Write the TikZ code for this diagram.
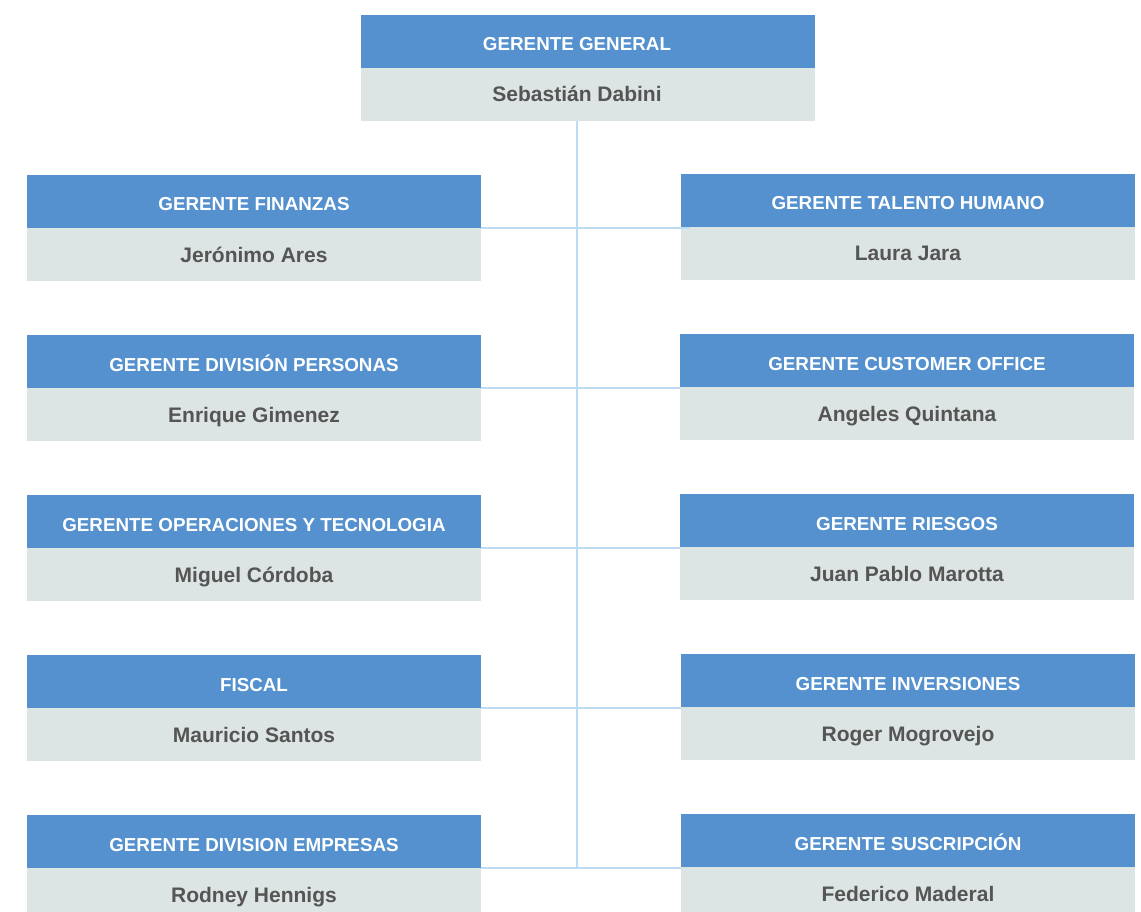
\documentclass[tikz,border=0pt]{standalone}
\usepackage{fontspec}
\setmainfont{Liberation Sans}
\definecolor{headblue}{RGB}{84,145,206}
\definecolor{namegrey}{RGB}{221,228,228}
\definecolor{nametext}{RGB}{85,85,85}
\definecolor{linkblue}{RGB}{189,220,242}
\tikzset{
  headfont/.style={text=white, font=\fontsize{18.8}{21}\selectfont\bfseries},
  namefont/.style={text=nametext, font=\fontsize{21}{24}\selectfont\bfseries},
  headbox/.style={fill=headblue, minimum width=454pt, inner sep=0pt, text height=36pt, text depth=17pt, headfont},
  namebox/.style={fill=namegrey, minimum width=454pt, inner sep=0pt, text height=34pt, text depth=19pt, namefont},
  plaintext/.style={inner sep=0pt, anchor=base},
  conn/.style={draw=linkblue, line width=1.6pt}
}
\newcommand{\orgunit}[5]{%
  \node[headbox] (#1h) at (#2+227,#3+26.5) {#4};
  \node[namebox] (#1n) at (#2+227,#3+79.5) {#5};
}
\begin{document}
\begin{tikzpicture}[x=1pt,y=-1pt]
\useasboundingbox (0,0) rectangle (1141,912);
% top box
\node[headbox] (gh) at (588,41.5) {};
\node[namebox] (gn) at (588,94.5) {};
\node[plaintext, headfont] (ght) at (577,51) {GERENTE GENERAL};
\node[plaintext, namefont] (gnt) at (577,102) {Sebastián Dabini};
% left column
\orgunit{l1}{27}{175}{GERENTE FINANZAS}{Jerónimo Ares}
\orgunit{l2}{27}{335}{GERENTE DIVISIÓN PERSONAS}{Enrique Gimenez}
\orgunit{l3}{27}{495}{GERENTE OPERACIONES Y TECNOLOGIA}{Miguel Córdoba}
\orgunit{l4}{27}{655}{FISCAL}{Mauricio Santos}
\orgunit{l5}{27}{815}{GERENTE DIVISION EMPRESAS}{Rodney Hennigs}
% right column
\orgunit{r1}{681}{174}{GERENTE TALENTO HUMANO}{Laura Jara}
\orgunit{r2}{680}{334}{GERENTE CUSTOMER OFFICE}{Angeles Quintana}
\orgunit{r3}{680}{494}{GERENTE RIESGOS}{Juan Pablo Marotta}
\orgunit{r4}{681}{654}{GERENTE INVERSIONES}{Roger Mogrovejo}
\orgunit{r5}{681}{814}{GERENTE SUSCRIPCIÓN}{Federico Maderal}
% connectors
\coordinate (spinetop) at (ght.base |- gn.south);
\coordinate (spinebot) at (ght.base |- l5h.south);
\draw[conn] (spinetop) -- (spinebot);
\draw[conn] (l1h.south east) -- ([xshift=9pt]l1h.south east -| r1h.west);
\draw[conn] (l2h.south east) -- (l2h.south east -| r2h.west);
\draw[conn] (l3h.south east) -- (l3h.south east -| r3h.west);
\draw[conn] (l4h.south east) -- (l4h.south east -| r4h.west);
\draw[conn] (l5h.south east) -- (l5h.south east -| r5h.west);
\end{tikzpicture}
\end{document}
